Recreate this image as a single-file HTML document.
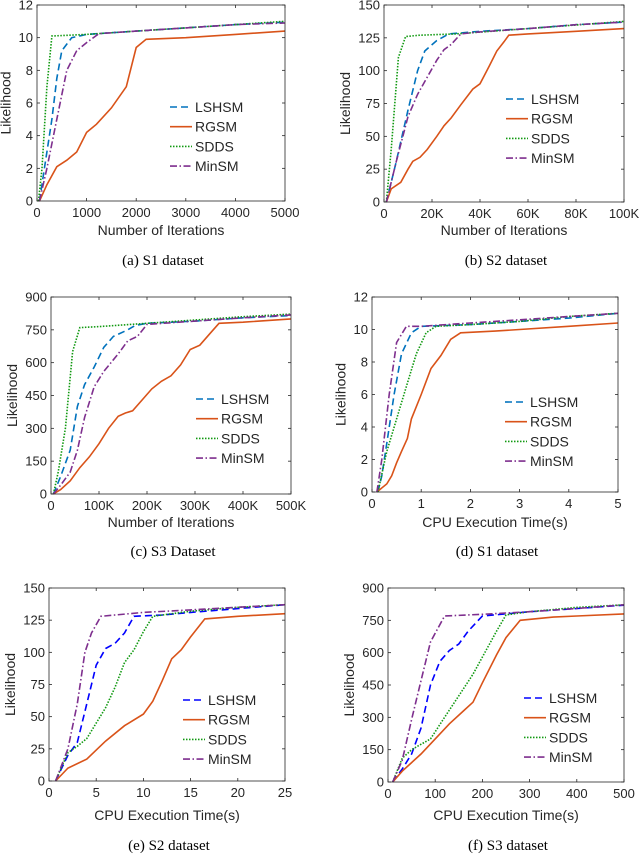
<!DOCTYPE html>
<html><head><meta charset="utf-8">
<style>
body{margin:0;background:#fff;width:640px;height:856px;overflow:hidden}
svg{display:block}
text{font-family:"Liberation Sans",sans-serif;fill:#262626}
.cap{font-family:"Liberation Serif",serif;fill:#000;font-size:15px}
</style></head>
<body>
<svg id="fig" width="640" height="856"></svg>
<script>
// ---- data: panel (a) S1 iterations
const aX=[0,1000,2000,3000,4000,5000], aXL=["0","1000","2000","3000","4000","5000"];
const aYT=[0,2,4,6,8,10,12];
const aLSHSM=[[50,0],[150,2],[300,5],[400,7.5],[500,9.2],[700,10],[1000,10.2],[2000,10.4],[3000,10.6],[4000,10.8],[5000,10.95]];
const aRGSM=[[50,0],[200,1],[400,2.1],[600,2.5],[800,3],[1000,4.2],[1200,4.7],[1500,5.7],[1800,7],[2000,9.4],[2200,9.9],[3000,10],[4000,10.2],[5000,10.4]];
const aSDDS=[[30,0],[100,2],[200,7],[300,10.1],[1000,10.2],[2000,10.4],[3000,10.6],[4000,10.8],[5000,11]];
const aMinSM=[[50,0],[200,2],[400,5],[600,8],[800,9.2],[1000,9.7],[1250,10.25],[2000,10.4],[3000,10.6],[4000,10.8],[5000,10.9]];
// ---- panel (b) S2 iterations (K)
const bX=[0,20,40,60,80,100], bXL=["0","20K","40K","60K","80K","100K"];
const bYT=[0,25,50,75,100,125,150];
const bLSHSM=[[1,0],[5,30],[10,70],[12,85],[14,100],[17,115],[22,123],[27,128],[40,130],[60,132],[80,135],[100,137]];
const bRGSM=[[1,0],[3,10],[7,15],[10,25],[12,31],[15,34],[18,40],[22,50],[25,58],[28,64],[32,74],[37,86],[40,90],[42,97],[44,104],[47,115],[50,122],[52,127],[60,128],[80,130],[100,132]];
const bSDDS=[[1,0],[3,40],[6,110],[9,126],[15,127],[30,128],[60,132],[100,137.5]];
const bMinSM=[[1,0],[5,30],[10,65],[14,82],[18,95],[22,108],[25,116],[28,120],[32,128],[40,129.5],[60,132],[80,135],[100,137]];
// ---- panel (c) S3 iterations (K)
const cX=[0,100,200,300,400,500], cXL=["0","100K","200K","300K","400K","500K"];
const cYT=[0,150,300,450,600,750,900];
const cLSHSM=[[5,0],[20,80],[40,200],[55,400],[70,500],[90,580],[110,670],[130,720],[160,750],[175,770],[200,780],[300,790],[400,805],[500,815]];
const cRGSM=[[5,0],[20,20],[40,60],[60,120],[80,170],[100,230],[120,300],[140,355],[155,370],[170,380],[190,430],[210,480],[230,515],[250,540],[270,590],[290,660],[310,680],[330,730],[350,780],[400,785],[500,800]];
const cSDDS=[[5,0],[15,100],[30,300],[45,650],[60,760],[100,765],[200,780],[300,795],[400,810],[500,822]];
const cMinSM=[[5,0],[20,40],[40,100],[55,200],[70,350],[90,490],[110,560],[140,640],[160,700],[180,720],[200,775],[300,790],[400,805],[500,818]];
// ---- panel (d) S1 CPU time
const dX=[0,1,2,3,4,5], dXL=["0","1","2","3","4","5"];
const dYT=[0,2,4,6,8,10,12];
const dLSHSM=[[0.12,0],[0.2,1],[0.3,3],[0.45,6],[0.6,8.5],[0.8,9.8],[1,10.2],[2,10.3],[3,10.5],[4,10.7],[5,11]];
const dRGSM=[[0.1,0],[0.3,0.5],[0.4,1],[0.5,1.8],[0.6,2.5],[0.72,3.3],[0.8,4.5],[1,6],[1.2,7.6],[1.4,8.4],[1.6,9.4],[1.8,9.8],[2.5,9.9],[3,10],[4,10.2],[5,10.4]];
const dSDDS=[[0.12,0],[0.3,2.5],[0.5,4.5],[0.7,6.5],[0.9,8.5],[1.1,9.8],[1.3,10.2],[2,10.3],[3,10.5],[4,10.8],[5,11]];
const dMinSM=[[0.1,0],[0.2,2],[0.35,6],[0.5,9.2],[0.7,10.2],[1,10.2],[2,10.4],[3,10.6],[4,10.8],[5,11]];
// ---- panel (e) S2 CPU time
const eX=[0,5,10,15,20,25], eXL=["0","5","10","15","20","25"];
const eYT=[0,25,50,75,100,125,150];
const eLSHSM=[[0.7,0],[2,20],[3,30],[4,60],[5,90],[6,103],[7,107],[8,115],[9,128],[12,129],[15,131],[20,134],[25,137]];
const eRGSM=[[0.7,0],[2,10],[4,17],[5,24],[6,31],[8,43],[10,52],[11,62],[12,78],[13,95],[14,102],[15,112],[16.5,126],[20,128],[25,130]];
const eSDDS=[[0.7,0],[2,22],[3,27],[4,33],[5,45],[6,57],[7,73],[8,92],[9,102],[10,116],[11,128],[15,132],[20,135],[25,137]];
const eMinSM=[[0.7,0],[2,25],[3,60],[3.8,100],[4.5,115],[5.5,128],[10,131],[15,133],[20,135],[25,137]];
// ---- panel (f) S3 CPU time
const fX=[0,100,200,300,400,500], fXL=["0","100","200","300","400","500"];
const fYT=[0,150,300,450,600,750,900];
const fLSHSM=[[10,0],[30,60],[50,130],[70,250],[90,450],[110,560],[130,610],[150,640],[170,700],[200,770],[250,780],[300,790],[400,805],[500,820]];
const fRGSM=[[10,0],[30,50],[50,90],[70,130],[100,200],[130,270],[160,330],[180,370],[200,460],[230,590],[250,670],[280,750],[350,765],[400,770],[500,780]];
const fSDDS=[[10,0],[30,110],[50,150],[70,175],[90,200],[120,300],[150,400],[180,500],[200,580],[230,700],[250,775],[300,790],[400,810],[500,822]];
const fMinSM=[[10,0],[30,100],[50,290],[70,470],[90,650],[110,730],[120,770],[200,778],[300,790],[400,805],[500,822]];

const NS="http://www.w3.org/2000/svg";
const svg=document.getElementById('fig');
function mk(tag,attrs,parent){const e=document.createElementNS(NS,tag);for(const k in attrs)e.setAttribute(k,attrs[k]);(parent||svg).appendChild(e);return e;}

const panels=[
 {id:"a",L:37,R:285,T:5,B:201,xt:aX,xl:aXL,yt:aYT,s:[aLSHSM,aRGSM,aSDDS,aMinSM],xlab:"Number of Iterations",cap:"(a) S1 dataset",lx:170,ly:107,xlY:235,capY:265,blue:"#0072BD"},
 {id:"b",L:384,R:624,T:5,B:202,xt:bX,xl:bXL,yt:bYT,s:[bLSHSM,bRGSM,bSDDS,bMinSM],xlab:"Number of Iterations",cap:"(b) S2 dataset",lx:506,ly:99,xlY:235,capY:265,blue:"#0072BD"},
 {id:"c",L:51,R:291,T:297,B:494,xt:cX,xl:cXL,yt:cYT,s:[cLSHSM,cRGSM,cSDDS,cMinSM],xlab:"Number of Iterations",cap:"(c) S3 Dataset",lx:196,ly:399,xlY:527,capY:556,blue:"#0072BD"},
 {id:"d",L:372,R:618,T:297,B:492,xt:dX,xl:dXL,yt:dYT,s:[dLSHSM,dRGSM,dSDDS,dMinSM],xlab:"CPU Execution Time(s)",cap:"(d) S1 dataset",lx:505,ly:402,xlY:527,capY:556,blue:"#0072BD"},
 {id:"e",L:49,R:285,T:588,B:781,xt:eX,xl:eXL,yt:eYT,s:[eLSHSM,eRGSM,eSDDS,eMinSM],xlab:"CPU Execution Time(s)",cap:"(e) S2 dataset",lx:183,ly:700,xlY:820,capY:850,blue:"#0000FF"},
 {id:"f",L:388,R:624,T:588,B:782,xt:fX,xl:fXL,yt:fYT,s:[fLSHSM,fRGSM,fSDDS,fMinSM],xlab:"CPU Execution Time(s)",cap:"(f) S3 dataset",lx:524,ly:698,xlY:820,capY:850,blue:"#0000FF"}
];
const names=["LSHSM","RGSM","SDDS","MinSM"];
const dash=["7,4","","1.5,1.5","7,2.5,1.5,2.5"];
panels.forEach(p=>{
  const g=mk('g',{});
  
  
  const x0=p.xt[0],x1=p.xt[p.xt.length-1],y0=p.yt[0],y1=p.yt[p.yt.length-1];
  const sx=v=>p.L+(v-x0)/(x1-x0)*(p.R-p.L);
  const sy=v=>p.B-(v-y0)/(y1-y0)*(p.B-p.T);
  const cols=[p.blue,"#D95319","#119911","#7E2F8E"];
  p.s.forEach((d,i)=>{
    const pl=mk('polyline',{points:d.map(q=>sx(q[0]).toFixed(1)+","+sy(q[1]).toFixed(1)).join(" "),fill:"none",stroke:cols[i],"stroke-width":1.6,"stroke-dasharray":dash[i]},g);
    
    
  });
  const box=mk('rect',{x:p.L,y:p.T,width:p.R-p.L,height:p.B-p.T,fill:"none",stroke:"#262626","stroke-width":0.8},g);
  
  
  p.xt.forEach((v,i)=>{
    const X=sx(v);
    mk('line',{x1:X,x2:X,y1:p.B,y2:p.B-3,stroke:"#262626","stroke-width":0.8},g);
    mk('line',{x1:X,x2:X,y1:p.T,y2:p.T+3,stroke:"#262626","stroke-width":0.8},g);
    const t=mk('text',{x:X,y:p.B+16,"text-anchor":"middle","font-size":13},g);
    t.textContent=p.xl[i];
    
    
  });
  p.yt.forEach(v=>{
    const Y=sy(v);
    mk('line',{x1:p.L,x2:p.L+3,y1:Y,y2:Y,stroke:"#262626","stroke-width":0.8},g);
    mk('line',{x1:p.R,x2:p.R-3,y1:Y,y2:Y,stroke:"#262626","stroke-width":0.8},g);
    const t=mk('text',{x:p.L-4,y:Y+4.5,"text-anchor":"end","font-size":13},g);
    t.textContent=String(v);
    
    
  });
  const xl=mk('text',{x:(p.L+p.R)/2,y:p.xlY,"text-anchor":"middle","font-size":14},g);
  xl.textContent=p.xlab;
  
  
  const maxw=String(p.yt[p.yt.length-1]).length*7.3;
  const yx=p.L-maxw-12;
  const yl=mk('text',{x:yx,y:(p.T+p.B)/2,"text-anchor":"middle","font-size":14,transform:`rotate(-90 ${yx} ${(p.T+p.B)/2})`},g);
  yl.textContent="Likelihood";
  
  
  names.forEach((n,i)=>{
    const Y=p.ly+i*19.7;
    const ln=mk('line',{x1:p.lx,x2:p.lx+22,y1:Y,y2:Y,stroke:cols[i],"stroke-width":1.6,"stroke-dasharray":dash[i]},g);
    
    
    const t=mk('text',{x:p.lx+25,y:Y+5,"font-size":14},g);
    t.textContent=n;
    
    
  });
  const c=mk('text',{x:(p.L+p.R)/2+2,y:p.capY,"text-anchor":"middle",class:"cap"},g);
  c.textContent=p.cap;
  
  
});
</script>
</body></html>
